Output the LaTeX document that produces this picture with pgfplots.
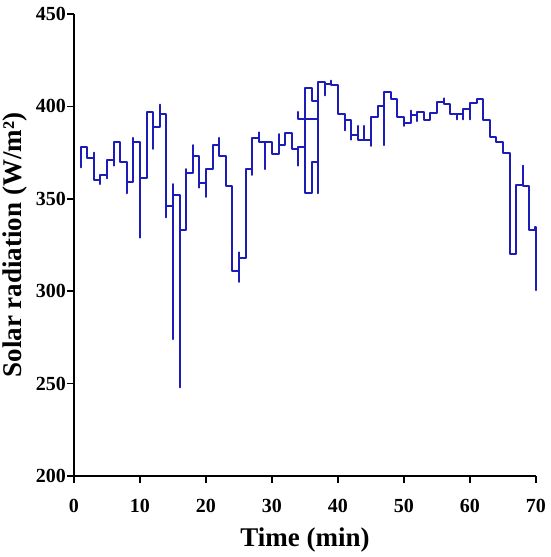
\documentclass[border=0pt]{standalone}
\usepackage{pgfplots}
\pgfplotsset{compat=1.18}
\usepackage{fontspec}
\setmainfont{Liberation Serif}
\definecolor{lineblue}{RGB}{28,28,185}
\tikzset{stepline/.style={lineblue, line width=2pt, line join=round, line cap=round, no markers}}
\begin{document}
\begin{tikzpicture}
\begin{axis}[
  scale only axis, width=462pt, height=462pt,
  xmin=0, xmax=70, ymin=200, ymax=450,
  axis lines=left,
  axis line style={-, line width=1.5pt, black},
  xtick={0,10,...,70}, ytick={200,250,...,450},
  tick align=outside, major tick length=7pt,
  tick style={line width=1.5pt, black},
  minor tick num=0,
  /pgf/number format/assume math mode=true,
  ticklabel style={font=\fontsize{20}{24}\selectfont\bfseries, inner sep=1pt},
  xticklabel style={yshift=-15pt},
  xlabel={Time (min)}, ylabel={Solar radiation (W/m²)},
  label style={font=\fontsize{27}{32}\selectfont\bfseries},
  xlabel style={at={(axis description cs:0.5,-0.1385)}, anchor=center},
  ylabel style={at={(axis description cs:-0.128,0.5)}, anchor=center},
  clip=false,
]
\addplot[stepline] coordinates {
(1,367)(1,378)(2,378)(2,372)(3,372)(3,375)(3,360)(4,360)(4,358)(4,363)(5,363)(5,361)(5,371)(6,371)(6,368)(6,381)(7,381)(7,370)(8,370)(8,353)(8,359)(9,359)(9,383)(9,381)(10,381)(10,329)(10,361)(11,361)(11,397)(12,397)(12,377)(12,389)(13,389)(13,401)(13,396)(14,396)(14,340)(14,346)(15,346)(15,358)(15,274)(15,352)(16,352)(16,248)(16,333)(17,333)(17,366)(17,364)(18,364)(18,379)(18,373)(19,373)(19,356)(19,358.5)(20,358.5)(20,351)(20,366)(21,366)(21,379)(22,379)(22,383)(22,373)(23,373)(23,357)(24,357)(24,311)(25,311)(25,305)(25,321)(25,318)(26,318)(26,366)(27,366)(27,363)(27,383)(28,383)(28,386)(28,381)(29,381)(29,366)(29,381)(30,381)(30,374)(31,374)(31,385)(31,379)(32,379)(32,385.5)(33,385.5)(33,377)(34,377)(34,368)(34,378)(35,378)(35,353)(36,353)(36,370)(37,370)(37,353)(37,413)(38,413)(38,406)(38,412)(39,412)(39,414)(39,411.5)(40,411.5)(40,396)(41,396)(41,387)(41,392.6)(42,392.6)(42,382)(42,384.5)(43,384.5)(43,389.5)(43,382)(44,382)(44,389.5)(44,382)(45,382)(45,378.6)(45,394.4)(46,394.4)(46,400.2)(47,400.2)(47,379)(47,408)(48,408)(48,404)(49,404)(49,394.4)(50,394.4)(50,389.4)(50,391.2)(51,391.2)(51,397.7)(51,395.3)(52,395.3)(52,392)(52,397)(53,397)(53,392.6)(54,392.6)(54,396.2)(55,396.2)(55,402.5)(56,402.5)(56,404.4)(56,401.5)(57,401.5)(57,396)(58,396)(58,393)(58,396)(59,396)(59,393)(59,398.4)(60,398.4)(60,393)(60,401.7)(61,401.7)(61,404)(62,404)(62,392.6)(63,392.6)(63,383.6)(64,383.6)(64,381)(65,381)(65,375)(66,375)(66,320)(67,320)(67,357.5)(68,357.5)(68,368)(68,357)(69,357)(69,333)(69.8,333)(69.8,335)(70,335)(70,300.6)
};
\addplot[stepline] coordinates {
(35,378)(35,410)(36,410)(36,403)(37,403)
};
\addplot[stepline] coordinates {
(34,397)(34,393)(37,393)
};
\end{axis}
\pgfresetboundingbox
\path (-74pt,-81pt) rectangle (476pt,476pt);
\end{tikzpicture}
\end{document}
